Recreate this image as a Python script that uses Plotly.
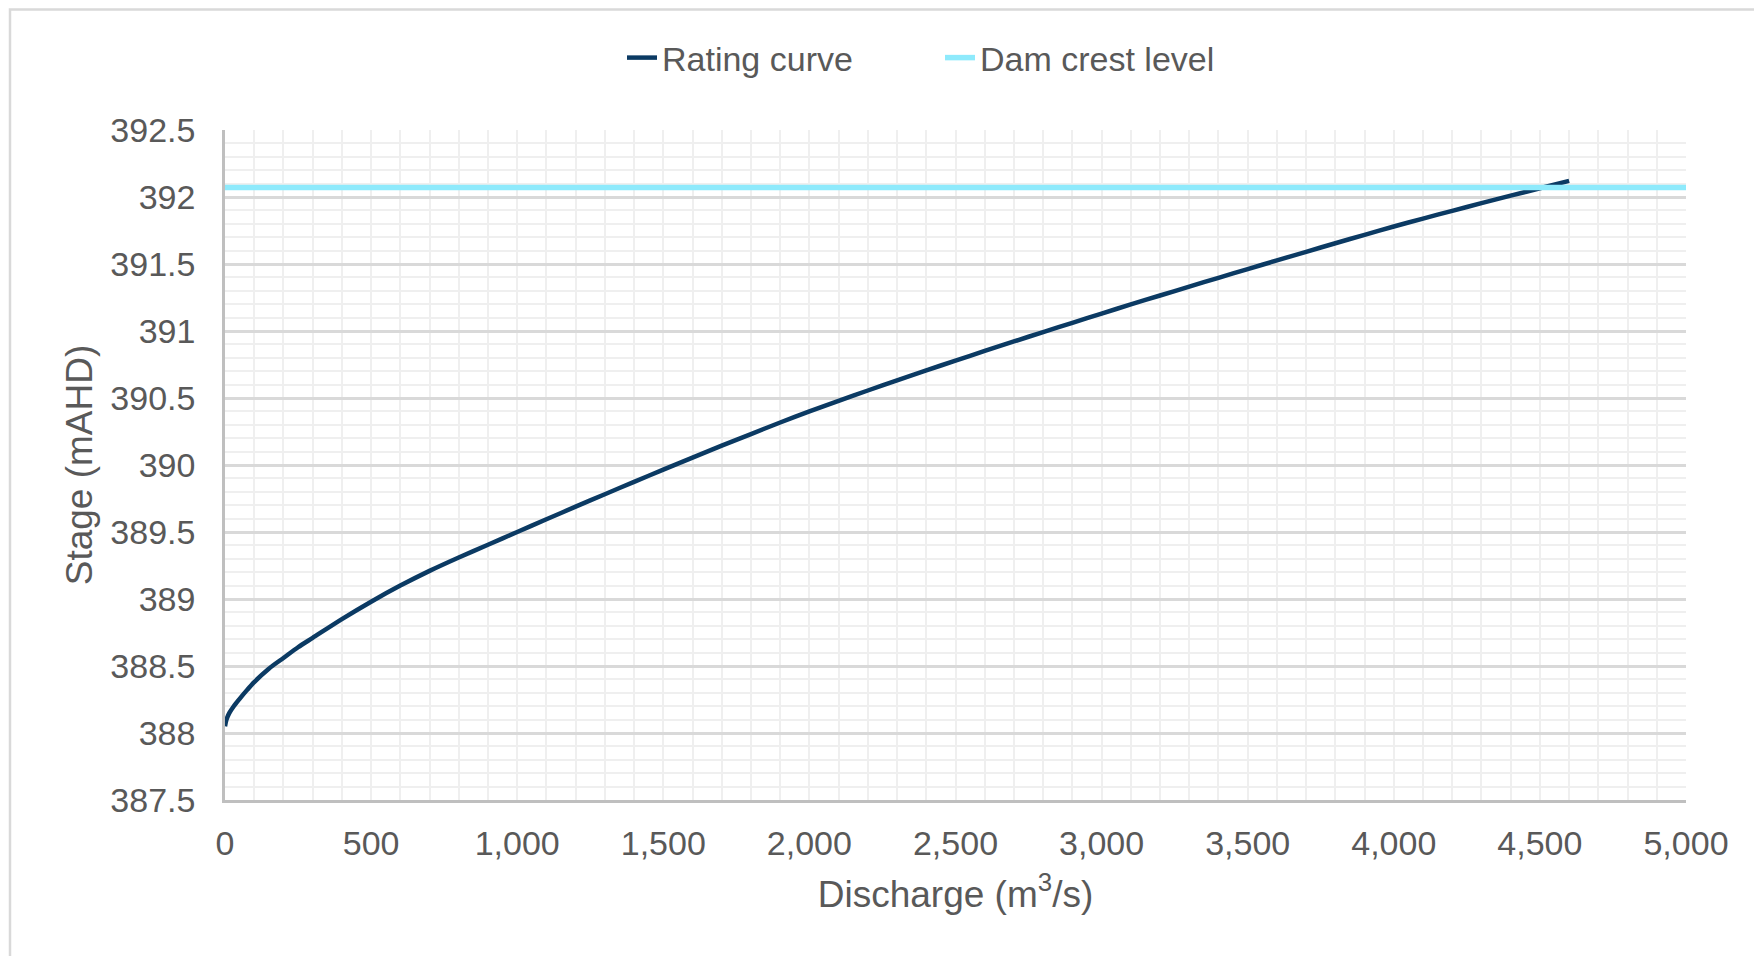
import plotly.graph_objects as go

# Rating curve values
discharge = [0, 5, 15, 30, 50, 75, 100, 150, 200, 250, 300, 400, 500, 600, 700, 800, 900,
             1000, 1100, 1200, 1300, 1400, 1500, 1600, 1700, 1800, 1900, 2000, 2100, 2200,
             2300, 2400, 2500, 2600, 2700, 2800, 2900, 3000, 3100, 3200, 3300, 3400,
             3500, 3600, 3700, 3800, 3900, 4000, 4100, 4200, 4300, 4400, 4500, 4600]
stage = [388.05, 388.10, 388.15, 388.20, 388.255, 388.32, 388.38, 388.48, 388.56, 388.64,
         388.71, 388.85, 388.98, 389.10, 389.21, 389.31, 389.405,
         389.500, 389.595, 389.689, 389.782, 389.874, 389.965, 390.055, 390.144, 390.231,
         390.317, 390.400, 390.479, 390.556, 390.632, 390.706, 390.779, 390.851, 390.922,
         390.992, 391.061, 391.130, 391.198, 391.265, 391.331, 391.397, 391.462, 391.527,
         391.591, 391.655, 391.718, 391.780, 391.839, 391.897, 391.954, 392.010, 392.065,
         392.120]

crest_x = [0, 5000]
crest_level = [392.07, 392.07]

series_names = ["Rating curve", "Dam crest level"]
x_title = "Discharge (m<sup>3</sup>/s)"
y_title = "Stage (mAHD)"

FONT = "Arial, 'Liberation Sans', sans-serif"
TXT = "#595959"

fig = go.Figure()
fig.add_trace(go.Scatter(x=discharge, y=stage, mode="lines", name=series_names[0],
                         line=dict(color="#0b3a63", width=4.5, shape="spline", smoothing=0.8)))
fig.add_trace(go.Scatter(x=crest_x, y=crest_level, mode="lines", name=series_names[1],
                         line=dict(color="#8eeafc", width=5.5)))

W, H = 1762, 956
L, R, T, B = 217, 1678, 122, 792
pw, ph = R - L, B - T

def px(xp):
    return (xp - L) / pw

def py(yp):
    return (B - yp) / ph

fig.update_layout(
    width=W, height=H,
    margin=dict(l=L, r=W - R, t=T, b=H - B),
    paper_bgcolor="white", plot_bgcolor="white",
    font=dict(family=FONT, size=34, color=TXT),
    showlegend=True,
    legend=dict(orientation="h", x=px(614), y=py(50), xanchor="left", yanchor="middle",
                font=dict(size=34, color=TXT), bgcolor="rgba(0,0,0,0)",
                entrywidth=273, entrywidthmode="pixels"),
    xaxis=dict(
        range=[0, 5000], dtick=500, tickformat=",", showgrid=True,
        gridcolor="#efefef", gridwidth=2,
        minor=dict(dtick=100, showgrid=True, gridcolor="#efefef", gridwidth=2),
        showline=True, linecolor="#bfbfbf", linewidth=2.5, zeroline=False,
        ticks="", ticklabelstandoff=11,
        tickfont=dict(size=34, color=TXT),
        title=dict(text=x_title, font=dict(size=37, color=TXT), standoff=21),
    ),
    yaxis=dict(
        range=[387.5, 392.5], dtick=0.5, showgrid=True,
        gridcolor="#d9d9d9", gridwidth=2.5,
        minor=dict(dtick=0.1, showgrid=True, gridcolor="#efefef", gridwidth=2),
        showline=True, linecolor="#bfbfbf", linewidth=2.5, zeroline=False,
        ticks="", ticklabelstandoff=20,
        tickfont=dict(size=34, color=TXT),
        title=dict(text=y_title, font=dict(size=37, color=TXT), standoff=7),
    ),
    shapes=[dict(type="rect", xref="paper", yref="paper",
                 x0=px(2), x1=px(1775), y0=py(970), y1=py(1.5),
                 line=dict(color="#d9d9d9", width=2.5), fillcolor="rgba(0,0,0,0)",
                 layer="below")],
)

fig.write_html("out.html")
